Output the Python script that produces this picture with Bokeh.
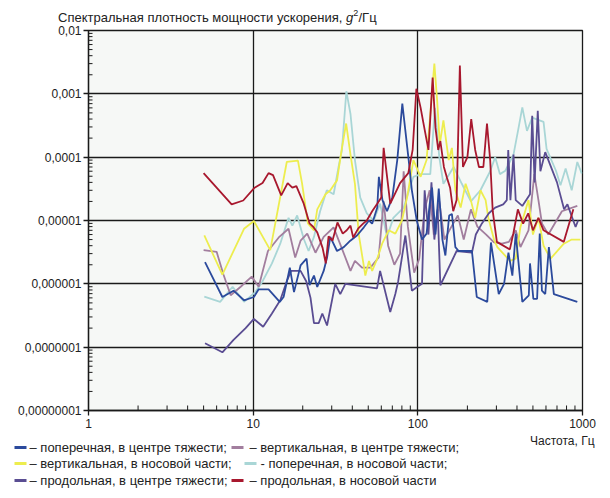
import math
from bokeh.plotting import figure
from bokeh.layouts import column
from bokeh.models import FixedTicker, Range1d
from bokeh.core.properties import value
from bokeh.embed import file_html
from bokeh.resources import INLINE

# ---- data (frequency in Hz, PSD in g^2/Hz) ----
freq_blue = [5.1, 6.5, 7.6, 8.8, 10.1, 10.8, 12.4, 14.5, 15.3, 16.7, 17.7, 19.4, 21.1, 22.0, 23.4, 24.5,
             26.8, 28.1, 29.4, 32.3, 35.5, 38.9, 42.7, 47, 50.5, 52.8, 56.7, 58, 61, 65, 70, 75, 80.5, 88,
             92, 98.5, 106, 113, 118, 122, 128, 134, 141, 147, 155, 161, 169, 177, 213, 228, 264, 278,
             310, 334, 355, 375, 393, 431, 472, 480, 503, 530, 550, 567, 594, 625, 670, 930]
psd_blue = [2.2e-6, 6.2e-7, 7.8e-7, 5.5e-7, 6.2e-7, 8.2e-7, 8.2e-7, 5.2e-7, 6.2e-7, 1.8e-6, 7.4e-7, 1.95e-6,
            2.5e-6, 9.5e-7, 1.35e-6, 8.9e-7, 1.6e-6, 2.6e-6, 5.5e-6, 3.3e-6, 3.8e-6, 4.8e-6, 5.8e-6, 7.8e-6,
            1e-5, 8.9e-6, 1.6e-5, 4.9e-5, 2.1e-5, 1.4e-5, 2.3e-5, 9e-5, 7e-4, 9e-5, 3e-5, 1e-5, 5e-6, 6.2e-6,
            1.8e-5, 3.3e-5, 6e-6, 3.2e-5, 5e-6, 2.8e-6, 1.2e-5, 1.27e-5, 3.8e-6, 3.3e-6, 3.3e-6, 6.2e-7,
            5.2e-7, 4.5e-6, 6.9e-7, 1e-6, 3.1e-6, 1.35e-6, 6.2e-6, 5.2e-7, 6.6e-7, 2.1e-6, 5.8e-7, 5.8e-7,
            6.2e-6, 7.8e-7, 6.9e-7, 3.8e-6, 6.9e-7, 5.2e-7]

freq_mauve = [5, 6, 6.6, 7.3, 8.4, 9.8, 10.8, 12.3, 14.3, 16.4, 18, 19.4, 21.3, 23.9, 26.8, 30.8, 34.6, 39,
              41.5, 45.8, 51.5, 57.8, 62, 66, 72, 78, 82, 87, 95, 102, 110, 118, 125, 135, 145, 160, 175,
              190, 210, 230, 260, 290, 324, 357, 393, 420, 470, 510, 540, 567, 620, 750, 930]
psd_mauve = [3.4e-6, 3.2e-6, 1.4e-6, 6.6e-7, 9e-7, 1.3e-6, 9e-7, 3.3e-6, 5.4e-6, 7.4e-6, 2.6e-6, 4.8e-6,
             6.2e-6, 3.1e-6, 5.5e-6, 7.8e-6, 3.6e-6, 1.6e-6, 2.3e-6, 1.8e-6, 1.8e-6, 2.6e-6, 2e-5, 4e-6,
             2e-6, 3e-6, 6e-5, 8e-6, 1.5e-6, 2.5e-6, 1.5e-5, 3e-5, 6e-6, 2e-5, 5e-6, 8e-6, 1.2e-5, 5e-6,
             1.5e-5, 8e-6, 6e-6, 4.5e-6, 4.3e-6, 4.6e-6, 7e-6, 3.8e-6, 7e-6, 5.4e-5, 2.1e-5, 9e-6, 6e-6,
             1.4e-5, 1.7e-5]

freq_yellow = [5.05, 6.5, 8.8, 10.1, 12.7, 16, 18.7, 19.8, 21.5, 23.4, 24.5, 27.5, 29.4, 32.3, 34.6, 36.7,
               39, 41.5, 43.7, 48, 50.5, 52.8, 56.7, 60.7, 66.5, 73, 80, 86, 94, 104, 113, 126, 131, 136,
               143, 154, 161, 169, 182, 195, 208, 223, 240, 258, 268, 290, 304, 363, 393, 420, 470, 500,
               540, 580, 640, 770, 860, 970]
psd_yellow = [5.8e-6, 1.4e-6, 7.4e-6, 9.8e-6, 3.4e-6, 8.4e-5, 8.8e-5, 3.9e-5, 9e-6, 7e-6, 1.5e-5, 2.6e-5,
              3e-5, 4.3e-5, 1.4e-4, 3.4e-4, 1.1e-4, 3.8e-5, 6.2e-6, 1.35e-6, 2.3e-6, 1.6e-6, 2.5e-6, 4.3e-6,
              7e-6, 6.2e-6, 1e-5, 2.3e-5, 9e-5, 4.9e-5, 9e-5, 3e-3, 7.9e-4, 1.6e-4, 3.8e-4, 9e-5, 1.4e-4,
              3e-5, 1.6e-5, 3.8e-5, 2.3e-5, 1.1e-5, 3e-5, 2.1e-5, 1.1e-5, 5e-6, 3.8e-6, 2.3e-6, 2.5e-6,
              7.9e-6, 2.1e-5, 6e-6, 1.1e-5, 4e-6, 2.5e-6, 4.3e-6, 5e-6, 5e-6]

freq_cyan = [5.05, 6.3, 7.5, 8.8, 10.3, 11.3, 13, 14.6, 16.4, 17.3, 18.5, 20.3, 21.7, 23.4, 25.5, 28, 30.8,
             33, 34.6, 36.8, 39, 41.5, 44.7, 49, 54, 59, 65, 71, 82, 94, 104, 119, 127, 135, 143, 165, 185,
             210, 240, 275, 295, 315, 340, 381, 410, 431, 460, 495, 580, 605, 690, 735, 790, 860, 930, 990]
psd_cyan = [6.3e-7, 5.2e-7, 9e-7, 5.2e-7, 7.4e-7, 1.05e-6, 2.1e-6, 4.3e-6, 1.1e-5, 8.3e-6, 1.2e-5, 5.1e-6,
            3.3e-6, 5.5e-6, 1.4e-5, 3e-5, 2.6e-5, 7e-5, 1.3e-4, 1.1e-3, 4.8e-4, 9e-5, 2.3e-5, 1.3e-5, 1e-5,
            1.85e-5, 5.5e-6, 1.1e-5, 1.6e-5, 4.9e-5, 5.4e-5, 5.4e-5, 6e-4, 1e-4, 3.8e-5, 7e-5, 3.8e-5, 2e-5,
            3e-5, 6e-5, 1e-4, 5.4e-5, 6.1e-5, 1.1e-4, 3e-4, 6.1e-4, 2.6e-4, 4.2e-4, 3.6e-4, 1.35e-4, 6.1e-5,
            3.6e-5, 6.6e-5, 3e-5, 8.4e-5, 5.5e-5]

freq_purple = [5.1, 6.5, 7.6, 9, 10.1, 11.5, 13, 14.6, 16, 17, 19.4, 21, 22.3, 23.4, 25, 26.3, 28.1, 31.5,
               33.8, 36.3, 56.5, 59, 68, 73, 76, 84, 92, 99, 106, 110, 116, 121, 126, 132, 137, 172, 213,
               225, 245, 270, 295, 330, 347, 354, 365, 381, 393, 431, 480, 495, 512, 535, 555, 594, 700,
               773, 810, 908, 940]
psd_purple = [1.15e-7, 8.3e-8, 1.3e-7, 2e-7, 2.8e-7, 2.1e-7, 3.4e-7, 5.5e-7, 1.1e-6, 1.6e-6, 1.6e-6, 1.1e-6,
              6e-7, 2.4e-7, 2.4e-7, 3.4e-7, 2.2e-7, 1e-6, 6.9e-7, 1e-6, 8.5e-7, 1.6e-6, 3.6e-7, 6.9e-7,
              1.1e-6, 5.8e-6, 7.8e-7, 8.9e-7, 1e-6, 3e-5, 6e-6, 4e-5, 5e-6, 1.5e-5, 9.5e-7, 3.3e-6, 3.1e-6,
              6e-6, 9e-6, 1.3e-5, 1.6e-5, 1.8e-5, 2.1e-5, 1.3e-4, 2.1e-5, 1.1e-4, 2.1e-5, 1.7e-5, 2.6e-5,
              4.5e-4, 4e-5, 5.4e-4, 6e-5, 1.2e-4, 4e-5, 1.5e-5, 1.8e-5, 7.9e-6, 1e-5]

freq_red = [5.0, 7.4, 8.7, 10.2, 11.4, 12.4, 13.2, 14.8, 16.2, 17.3, 18.3, 20.2, 22.0, 23.2, 24.5, 26.4, 27.6,
            28.7, 30.3, 32.5, 35, 37, 39, 40.5, 43.5, 46.7, 49, 52.8, 56.8, 60, 62, 68, 78, 87.5, 93, 98,
            104, 108, 116, 123, 128, 133, 137, 144, 150, 157, 164, 172, 180, 188, 200, 211, 223, 235, 250,
            263, 275, 285, 302, 362, 380, 405, 436, 468, 500, 540, 580, 770, 880]
psd_red = [5.6e-5, 1.8e-5, 2.07e-5, 3.3e-5, 3.9e-5, 5.6e-5, 5.2e-5, 2.5e-5, 3.9e-5, 3.3e-5, 3.5e-5, 1.9e-5,
           9e-6, 7.9e-6, 6.5e-6, 3.7e-6, 2.1e-6, 5.6e-6, 4.8e-6, 9.3e-6, 6.2e-6, 7e-6, 8.3e-6, 5.4e-6, 7.5e-6,
           9e-6, 1e-5, 1.4e-5, 1.85e-5, 2.3e-5, 1.4e-4, 1.85e-5, 3.9e-5, 5.6e-5, 1.3e-4, 1.2e-3, 6e-4,
           3.5e-4, 1.3e-4, 1.8e-3, 2.9e-4, 1.3e-4, 1.8e-4, 7e-5, 4.8e-5, 3.3e-5, 1.4e-5, 2.1e-5, 2.8e-3,
           7e-5, 1e-4, 4e-4, 1.3e-4, 7e-5, 7e-5, 3.4e-4, 9e-5, 1.4e-5, 4.6e-6, 3.5e-6, 6.2e-6, 1.5e-5,
           8.9e-6, 1.3e-5, 7e-6, 1.1e-5, 7e-6, 4.6e-6, 1.5e-5]

series_names = ["– поперечная, в центре тяжести;", "– вертикальная, в центре тяжести;",
                "– вертикальная, в носовой части;", "- поперечная, в носовой части;",
                "– продольная, в центре тяжести;", "– продольная, в носовой части"]

x_ticks = [1, 10, 100, 1000]
x_tick_labels = ["1", "10", "100", "1000"]
y_ticks = [1e-8, 1e-7, 1e-6, 1e-5, 1e-4, 1e-3, 1e-2]
y_tick_labels = ["0,00000001", "0,0000001", "0,000001", "0,00001", "0,0001", "0,001", "0,01"]

title_parts = ["Спектральная плотность мощности ускорения, ", "g", "2", "/Гц"]
x_title_text = "Частота, Гц"

C_BLUE = "#2b4a9c"
C_MAUVE = "#a27e9e"
C_YELLOW = "#eded4e"
C_CYAN = "#a9d6d6"
C_PURPLE = "#5a4d92"
C_RED = "#a8182e"

FONT = "Liberation Sans"
INK = "#1a1a1a"
TXT = "#222222"
W_ALL = 610
H_HEAD, H_MAIN, H_FOOT = 25, 409, 64   # 25 + 409 + 64 = 498


def no_align(fig):
    try:
        fig.frame_align = False
    except Exception:
        pass


def blank(h, y_top):
    """A bare strip whose data coordinates equal page pixels (y grows downward)."""
    f = figure(width=W_ALL, height=h, x_range=Range1d(0, W_ALL), y_range=Range1d(y_top + h, y_top),
               output_backend="svg", toolbar_location=None, min_border=0,
               x_axis_location=None, y_axis_location=None, title=None)
    f.grid.grid_line_color = None
    f.outline_line_color = None
    f.background_fill_color = "white"
    f.border_fill_color = "white"
    no_align(f)
    return f


# ---------------- header (title) ----------------
head = blank(H_HEAD, 0)
ty = 17.0
head.text(x=[57.6], y=[ty], text=[title_parts[0]], text_font=value(FONT), text_font_size="13px",
          text_baseline="middle", text_color=TXT)
head.text(x=[345.5], y=[ty], text=[title_parts[1]], text_font=value(FONT), text_font_size="13px",
          text_font_style="italic", text_baseline="middle", text_color=TXT)
head.text(x=[352.8], y=[12.5], text=[title_parts[2]], text_font=value(FONT), text_font_size="9px",
          text_baseline="middle", text_color=TXT)
head.text(x=[358.0], y=[ty], text=[title_parts[3]], text_font=value(FONT), text_font_size="13px",
          text_baseline="middle", text_color=TXT)

# ---------------- main chart ----------------
p = figure(width=W_ALL, height=H_MAIN, x_axis_type="log", y_axis_type="log",
           x_range=(1, 1000), y_range=(1e-8, 1e-2), output_backend="svg",
           toolbar_location=None, title=None,
           min_border_left=88, min_border_right=28, min_border_top=5, min_border_bottom=24)
no_align(p)

p.background_fill_color = "#f6f8f6"
p.border_fill_color = "white"
p.outline_line_color = INK
p.outline_line_width = 1.3

p.xaxis.ticker = FixedTicker(ticks=x_ticks)
p.yaxis.ticker = FixedTicker(ticks=y_ticks)
p.xaxis.major_label_overrides = {float(t): l for t, l in zip(x_ticks, x_tick_labels)}
p.yaxis.major_label_overrides = {t: l for t, l in zip(y_ticks, y_tick_labels)}

for ax in (p.xaxis[0], p.yaxis[0]):
    ax.axis_line_color = INK
    ax.axis_line_width = 1.3
    ax.major_tick_line_color = INK
    ax.major_tick_line_width = 1.3
    ax.minor_tick_line_color = None
    ax.major_tick_in = 0
    ax.major_tick_out = 5
    ax.major_label_text_font = FONT
    ax.major_label_text_font_size = "12px"
    ax.major_label_text_color = TXT
p.xaxis.major_label_standoff = 3
p.yaxis.major_label_standoff = 2

for g in (p.xgrid[0], p.ygrid[0]):
    g.grid_line_color = INK
    g.grid_line_width = 1.3
    g.minor_grid_line_color = None

# minor ticks inside the frame
x_minor = [m * 10 ** e for e in range(0, 3) for m in range(2, 10)]
y_minor = [m * 10.0 ** e for e in range(-8, -2) for m in range(2, 10)]
p.ray(x=x_minor, y=[1e-8] * len(x_minor), length=5, length_units="screen",
      angle=math.pi / 2, line_color=INK, line_width=1)
p.ray(x=[1] * len(y_minor), y=y_minor, length=4, length_units="screen",
      angle=0, line_color=INK, line_width=1)

W = 1.8
p.line(freq_cyan, psd_cyan, line_color=C_CYAN, line_width=W)
p.line(freq_mauve, psd_mauve, line_color=C_MAUVE, line_width=W)
p.line(freq_yellow, psd_yellow, line_color=C_YELLOW, line_width=W)
p.line(freq_purple, psd_purple, line_color=C_PURPLE, line_width=W)
p.line(freq_blue, psd_blue, line_color=C_BLUE, line_width=W)
p.line(freq_red, psd_red, line_color=C_RED, line_width=W)

# ---------------- footer (axis caption + legend) ----------------
foot_top = H_HEAD + H_MAIN
foot = blank(H_FOOT, foot_top)
foot.text(x=[594], y=[440], text=[x_title_text], text_font=value(FONT), text_font_size="12px",
          text_align="right", text_baseline="middle", text_color=TXT)

legend_colors = [C_BLUE, C_MAUVE, C_YELLOW, C_CYAN, C_PURPLE, C_RED]
rows_y = [447, 463, 480]
key_x = [14, 231, 14, 244, 14, 231]
text_x = [29, 249, 29, 260, 29, 249]
key_y = [rows_y[i // 2] for i in range(6)]
foot.segment(x0=key_x, y0=key_y, x1=[k + 12 for k in key_x], y1=key_y,
             line_color=legend_colors, line_width=3)
foot.text(x=text_x, y=key_y, text=series_names, text_font=value(FONT), text_font_size="13px",
          text_baseline="middle", text_color=TXT)

layout = column(head, p, foot, spacing=0)
open("out.html", "w").write(file_html(layout, INLINE))
